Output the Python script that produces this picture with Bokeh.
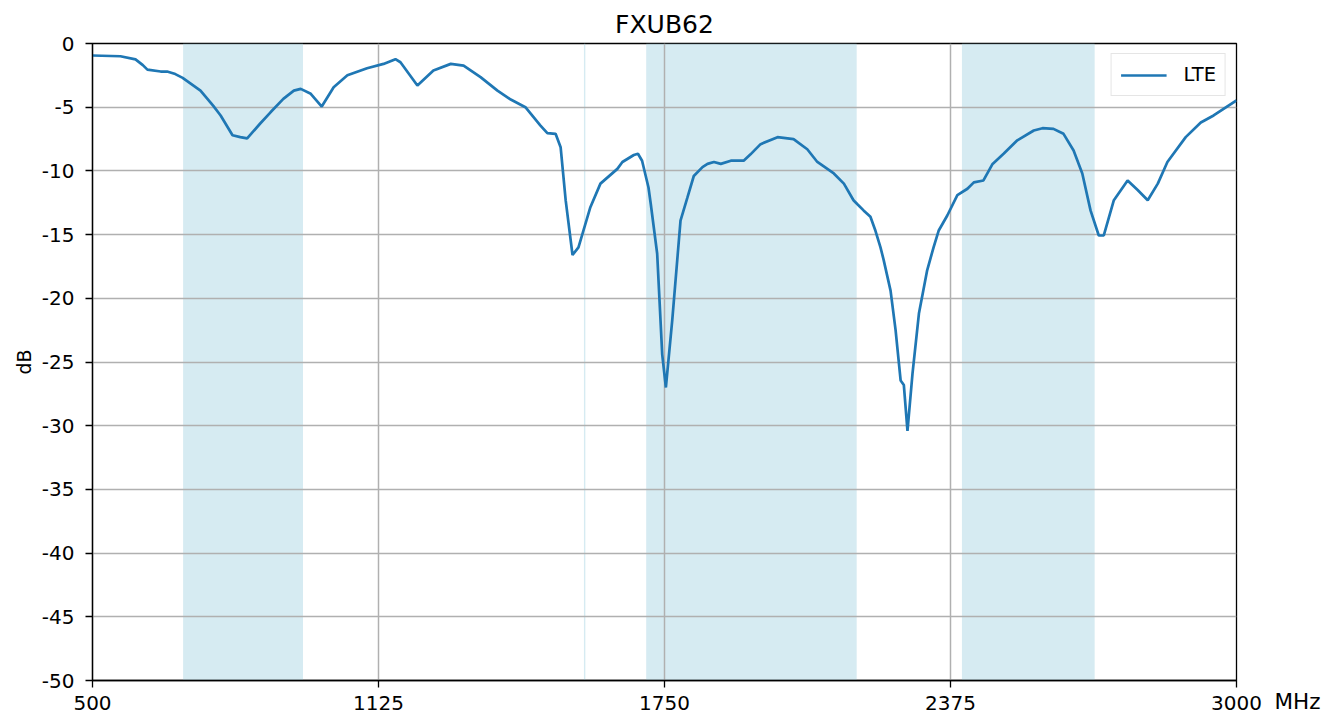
from bokeh.plotting import figure
from bokeh.models import Range1d, FixedTicker, Label
from bokeh.embed import file_html
from bokeh.resources import INLINE

# ---- data ----
freq_mhz = [500, 561, 594, 610, 620, 649, 663, 681, 697, 736, 764, 780, 806, 823, 838,
            866, 889, 917, 940, 955, 977, 1001, 1027, 1057, 1100, 1136, 1162, 1173, 1210,
            1245, 1283, 1311, 1348, 1385, 1414, 1446, 1479, 1494, 1512, 1523, 1534, 1549,
            1562, 1588, 1610, 1647, 1658, 1683, 1692, 1701, 1715, 1720, 1734, 1745, 1753, 1767,
            1785, 1800, 1814, 1833, 1844, 1858, 1873, 1895, 1923, 1938, 1960, 1997, 2032,
            2062, 2084, 2120, 2142, 2163, 2171, 2185, 2200, 2211, 2222, 2229, 2244, 2255,
            2266, 2273, 2281, 2292, 2306, 2324, 2338, 2349, 2368, 2390, 2412, 2426, 2447,
            2467, 2491, 2521, 2557, 2576, 2600, 2622, 2644, 2663, 2681, 2699, 2710, 2732,
            2762, 2784, 2806, 2828, 2849, 2889, 2922, 2950, 3000]
lte_db = [-0.94, -1.0, -1.25, -1.7, -2.05, -2.2, -2.2, -2.4, -2.7, -3.7, -4.9, -5.65, -7.2, -7.35, -7.45,
          -6.3, -5.4, -4.35, -3.7, -3.56, -3.95, -4.95, -3.43, -2.5, -1.94, -1.6, -1.23, -1.47, -3.3,
          -2.12, -1.6, -1.73, -2.64, -3.7, -4.4, -5.0, -6.44, -7.04, -7.09, -8.14, -12.3, -16.6,
          -16.0, -12.85, -11.0, -9.84, -9.3, -8.75, -8.65, -9.2, -11.3, -12.6, -16.5, -24.4, -27.0, -21.7,
          -13.9, -12.1, -10.4, -9.7, -9.45, -9.3, -9.45, -9.2, -9.2, -8.7, -7.9, -7.35, -7.5,
          -8.3, -9.3, -10.2, -11.0, -12.3, -12.6, -13.1, -13.6, -14.7, -16.0, -17.0, -19.4, -22.5,
          -26.45, -26.8, -30.4, -25.9, -21.2, -17.8, -16.0, -14.7, -13.5, -11.9, -11.4, -10.9, -10.75,
          -9.45, -8.66, -7.6, -6.83, -6.65, -6.7, -7.09, -8.4, -10.2, -13.1, -15.07, -15.07, -12.3,
          -10.75, -11.5, -12.3, -11.0, -9.3, -7.35, -6.2, -5.65, -4.47]

band_start = [698, 1574, 1710, 2400]
band_end = [960, 1577, 2170, 2690]

x_ticks = [500, 1125, 1750, 2375, 3000]
y_ticks = [-50, -45, -40, -35, -30, -25, -20, -15, -10, -5, 0]

FONT = "DejaVu Sans"

p = figure(width=1331, height=720, output_backend="svg", toolbar_location=None,
           x_range=Range1d(500, 3000), y_range=Range1d(-50, 0),
           min_border_left=92, min_border_right=95, min_border_top=43, min_border_bottom=40)

p.title.text = "FXUB62"
p.title.align = "center"
p.title.text_font = FONT
p.title.text_font_size = "25px"
p.title.text_font_style = "normal"
p.title.text_color = "black"

# bands below grid
p.quad(left=band_start, right=band_end, bottom=-50, top=0,
       fill_color="#add8e6", fill_alpha=0.5, line_color=None, level="image")

p.line(freq_mhz, lte_db, line_color="#1f77b4", line_width=2.7, legend_label="LTE")

p.outline_line_color = "black"
p.outline_line_width = 1.3
p.background_fill_color = "white"
p.border_fill_color = "white"

for ax in (p.xaxis[0], p.yaxis[0]):
    ax.major_tick_out = 7
    ax.major_tick_in = 0
    ax.minor_tick_out = 0
    ax.minor_tick_in = 0
    ax.axis_line_color = "black"
    ax.axis_line_width = 1.3
    ax.major_tick_line_color = "black"
    ax.major_tick_line_width = 1.3
    ax.major_label_text_font = FONT
    ax.major_label_text_font_size = "20px"
    ax.major_label_text_color = "black"

p.xaxis.ticker = FixedTicker(ticks=x_ticks)
p.yaxis.ticker = FixedTicker(ticks=y_ticks)
p.xaxis.major_label_overrides = {t: str(t) for t in x_ticks}
p.yaxis.major_label_overrides = {t: str(t) for t in y_ticks}
p.xaxis.major_label_standoff = 8
p.yaxis.major_label_standoff = 11
p.yaxis.axis_label = "dB"
p.yaxis.axis_label_text_font = FONT
p.yaxis.axis_label_text_font_size = "19px"
p.yaxis.axis_label_text_font_style = "normal"
p.yaxis.axis_label_text_color = "black"
p.yaxis.axis_label_standoff = 4

p.xgrid.grid_line_color = "#b0b0b0"
p.ygrid.grid_line_color = "#b0b0b0"
p.xgrid.grid_line_width = 1.5
p.ygrid.grid_line_width = 1.5

# x-axis unit label, placed in the right side panel so it is not clipped to the frame
p.add_layout(Label(x=3000, y=-50, x_offset=38, y_offset=-8, text="MHz",
                   text_font=FONT, text_font_size="21.5px", text_color="black",
                   text_baseline="top", text_align="left"), "right")

lg = p.legend[0]
lg.location = "top_right"
lg.margin = 10
lg.padding = 9
lg.spacing = 0
lg.label_text_font = FONT
lg.label_text_font_size = "19.5px"
lg.label_text_color = "black"
lg.glyph_width = 46
lg.glyph_height = 22
lg.label_standoff = 17
lg.border_line_color = "#cccccc"
lg.border_line_width = 1.2
lg.background_fill_alpha = 0.8

open("out.html", "w").write(file_html(p, INLINE))
